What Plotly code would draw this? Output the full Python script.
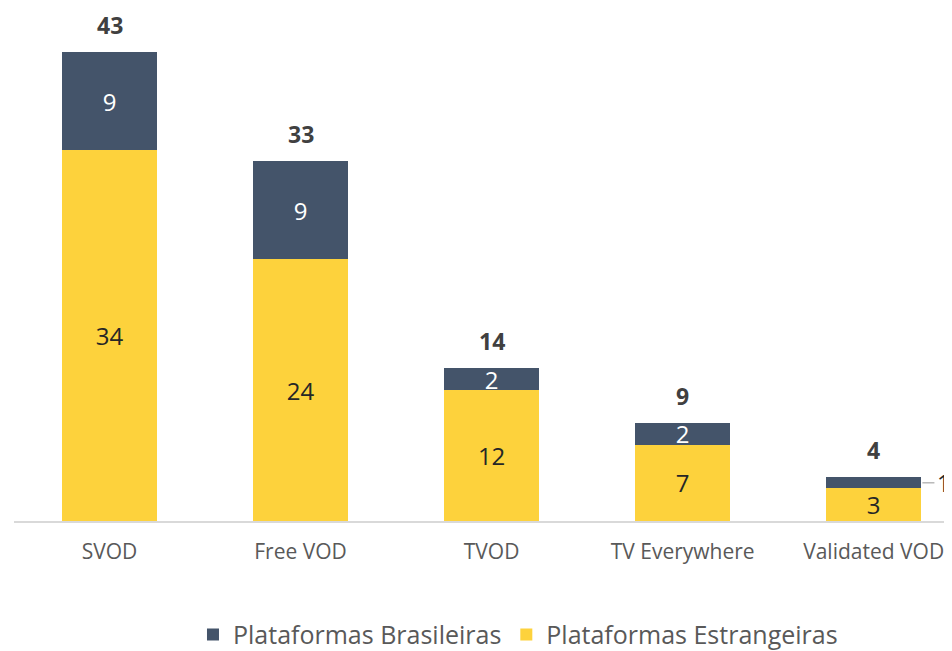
import plotly.graph_objects as go

categories = ["SVOD", "Free VOD", "TVOD", "TV Everywhere", "Validated VOD"]
estrangeiras = [34, 24, 12, 7, 3]
brasileiras = [9, 9, 2, 2, 1]
totals = [a + b for a, b in zip(estrangeiras, brasileiras)]

YELLOW = "#FDD23C"
BLUE = "#44546A"
FONT = "Open Sans"

x_idx = list(range(len(categories)))

bras_text = [str(v) for v in brasileiras]
bras_text[-1] = ""

fig = go.Figure()
fig.add_trace(go.Bar(
    name="Plataformas Estrangeiras", x=x_idx, y=estrangeiras,
    marker=dict(color=YELLOW, line=dict(width=0)), width=0.5,
    text=[str(v) for v in estrangeiras], textposition="inside", textangle=0,
    insidetextanchor="middle", constraintext="none",
    textfont=dict(family=FONT, size=24, color="#262626"),
    hoverinfo="skip",
))
fig.add_trace(go.Bar(
    name="Plataformas Brasileiras", x=x_idx, y=brasileiras,
    marker=dict(color=BLUE, line=dict(width=0)), width=0.5,
    text=bras_text, textposition="inside", textangle=0,
    insidetextanchor="middle", constraintext="none",
    textfont=dict(family=FONT, size=24, color="white"),
    hoverinfo="skip",
))

for i, t in enumerate(totals):
    fig.add_annotation(x=i, y=t, text="<b>%d</b>" % t, showarrow=False,
                       yshift=27, font=dict(family=FONT, size=23, color="#404040"))

li = len(categories) - 1
ymid = estrangeiras[li] + brasileiras[li] / 2
fig.add_shape(type="line", x0=li + 0.255, x1=li + 0.318, y0=ymid, y1=ymid,
              line=dict(color="#A6A6A6", width=1.2))
fig.add_annotation(xref="paper", x=1.0, y=ymid, text=str(brasileiras[li]), showarrow=False,
                   xanchor="right", font=dict(family=FONT, size=23, color="#262626"))

# page body has an 8px default margin, so the figure is sized 8px smaller
fig.update_layout(
    width=944, height=643,
    barmode="stack",
    plot_bgcolor="white", paper_bgcolor="white",
    margin=dict(l=6, r=0, t=1, b=130, autoexpand=False),
    xaxis=dict(
        tickmode="array", tickvals=x_idx, ticktext=categories,
        range=[-0.5, 4.41], showgrid=False, zeroline=False,
        showline=True, linecolor="#D9D9D9", linewidth=1.5,
        ticks="", ticklabelstandoff=11, automargin=False,
        tickfont=dict(family=FONT, size=21, color="#595959"),
    ),
    yaxis=dict(range=[0, 46.94], visible=False, showgrid=False, zeroline=False,
               automargin=False),
    legend=dict(
        orientation="h", x=0.5373, xanchor="center", y=-0.222, yanchor="middle",
        traceorder="reversed", font=dict(family=FONT, size=25, color="#595959"),
    ),
    showlegend=True,
)

fig.write_html("out.html")
